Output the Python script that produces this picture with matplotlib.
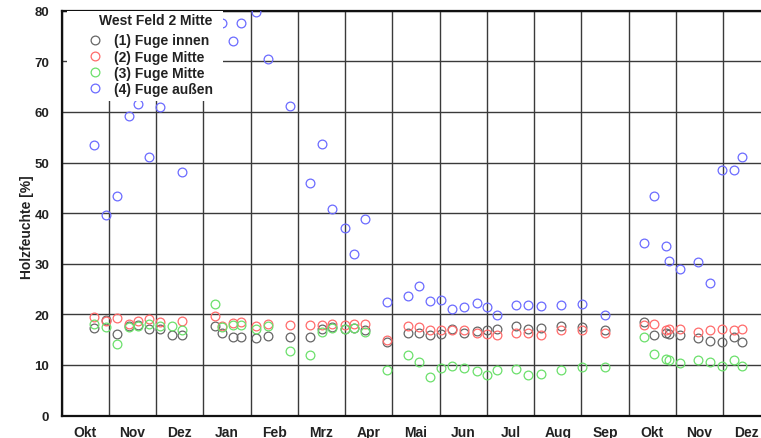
import numpy as np
import matplotlib
matplotlib.use("Agg")
import matplotlib.pyplot as plt
from matplotlib.patches import Rectangle

plt.rcParams['font.family'] = ['Liberation Sans', 'DejaVu Sans']

# month axis: position in months from 1 Oct (0 = start of Okt)
months = ['Okt', 'Nov', 'Dez', 'Jan', 'Feb', 'Mrz', 'Apr', 'Mai', 'Jun',
          'Jul', 'Aug', 'Sep', 'Okt', 'Nov', 'Dez']

# measurement times (fractional month index)
x_mess = [0.69, 0.93, 1.16, 1.42, 1.62, 1.85, 2.08, 2.34, 2.54, 3.25, 3.40, 3.63,
          3.80, 4.11, 4.36, 4.84, 5.26, 5.50, 5.73, 5.99, 6.19, 6.42, 6.88, 7.34,
          7.57, 7.80, 8.03, 8.27, 8.52, 8.80, 9.00, 9.22, 9.61, 9.88, 10.14, 10.57,
          11.02, 11.50, 12.32, 12.54, 12.79, 12.86, 13.09, 13.46, 13.72, 13.97, 14.23, 14.40]

fuge_innen = [17.2, 18.9, 16.1, 17.6, 17.8, 17.1, 17.1, 15.9, 15.9, 17.7, 16.3, 15.6,
              15.6, 15.4, 15.8, 15.6, 15.6, 17.0, 17.4, 17.0, 17.3, 16.8, 14.6, 16.3,
              16.4, 15.9, 16.1, 17.1, 16.4, 16.7, 16.8, 17.1, 17.7, 17.1, 17.2, 17.7,
              17.4, 16.8, 18.4, 15.9, 16.4, 16.1, 16.0, 15.3, 14.7, 14.5, 15.5, 14.6]

fuge_mitte2 = [19.4, 18.7, 19.2, 18.1, 18.6, 19.1, 18.5, np.nan, 18.7, 19.6, 17.7, 18.3,
               18.4, 17.6, 18.1, 17.9, 17.9, 17.9, 18.1, 17.8, 18.0, 18.1, 15.0, 17.6,
               17.4, 16.9, 16.9, 16.8, 16.9, 16.3, 16.1, 15.9, 16.4, 16.4, 16.0, 16.9,
               16.9, 16.3, 17.9, 18.1, 16.8, 17.1, 17.1, 16.6, 16.9, 17.0, 16.8, 17.1]

fuge_mitte3 = [18.1, 17.4, 14.1, 17.4, 17.6, 18.1, 17.6, 17.7, 16.9, 22.0, 17.4, 17.9,
               17.9, 17.0, 17.6, 12.8, 12.0, 16.6, 17.3, 17.0, 17.2, 16.6, 8.9, 12.0,
               10.5, 7.7, 9.3, 9.8, 9.3, 8.7, 8.1, 8.9, 9.2, 8.0, 8.2, 9.0,
               9.5, 9.5, 15.6, 12.1, 11.2, 11.0, 10.3, 11.0, 10.6, 9.8, 10.9, 9.8]

fuge_aussen = [53.4, 39.7, 43.3, 59.1, 61.5, 51.0, 61.0, np.nan, 48.2, np.nan, 77.6, 74.1,
               77.6, 79.7, 70.4, 61.2, 45.9, 53.6, 40.9, 37.0, 31.9, 38.9, 22.4, 23.6,
               25.5, 22.7, 22.8, 21.1, 21.4, 22.3, 21.5, 19.8, 21.9, 21.8, 21.6, 21.8,
               22.0, 19.9, 34.1, 43.4, 33.5, 30.5, 28.9, 30.4, 26.1, 48.5, 48.5, 51.1]

series = [
    ("(1) Fuge innen", fuge_innen, "#666666"),
    ("(2) Fuge Mitte", fuge_mitte2, "#ff6b6b"),
    ("(3) Fuge Mitte", fuge_mitte3, "#6be06b"),
    ("(4) Fuge außen", fuge_aussen, "#6b6bff"),
]
legend_title = "West Feld 2 Mitte"

W, H = 761, 439
fig = plt.figure(figsize=(W / 100, H / 100), dpi=100)
ax_l, ax_r, ax_t, ax_b = 61.7, 761.0, 11.7, 416.5
ax = fig.add_axes([ax_l / W, 1 - ax_b / H, (ax_r - ax_l) / W, (ax_b - ax_t) / H])

for label, vals, col in series:
    ax.plot(x_mess, vals, linestyle='none', marker='o', markersize=6.3,
            markerfacecolor='none', markeredgecolor=col, markeredgewidth=0.9,
            label=label, zorder=3)

ax.set_ylim(0, 80)
ax.set_yticks(np.arange(0, 81, 10))
xmax = len(months) - 1 + (ax_r - 723.3) / 47.0
ax.set_xlim(0, xmax)
ax.set_xticks(np.arange(0, len(months)))
ax.set_xticklabels([])
ax.set_xticks(np.arange(len(months)) + 0.5, minor=True)
ax.set_xticklabels(months, minor=True)

ax.grid(True, which='major', color='#3a3a3a', linewidth=1.0, zorder=1)
ax.set_axisbelow(True)
ax.tick_params(axis='both', which='both', length=0)
ax.tick_params(axis='y', pad=9, labelsize=9.5)
ax.tick_params(axis='x', which='minor', pad=6.5, labelsize=10)
for lab in ax.get_yticklabels() + ax.get_xticklabels(minor=True):
    lab.set_fontweight('bold')
    lab.set_color('#222222')

for s in ['left', 'bottom', 'top']:
    ax.spines[s].set_linewidth(1.6)
    ax.spines[s].set_color('#111111')
ax.spines['right'].set_visible(False)

ax.set_ylabel("Holzfeuchte [%]", fontsize=10, fontweight='bold', color='#222222')
ax.yaxis.set_label_coords((33.5 - ax_l) / (ax_r - ax_l), (ax_b - 227) / (ax_b - ax_t))

# white area behind legend
x0 = (67 - ax_l) / (ax_r - ax_l)
x1 = (223.3 - ax_l) / (ax_r - ax_l)
y0 = (ax_b - 101.7) / (ax_b - ax_t)
ax.add_patch(Rectangle((x0, y0), x1 - x0, 1 - y0, transform=ax.transAxes,
                       facecolor='white', edgecolor='none', zorder=4, clip_on=False))

leg = ax.legend(loc='upper left',
                bbox_to_anchor=(86 / W, 1 - 34.5 / H), bbox_transform=fig.transFigure,
                frameon=False, borderpad=0, borderaxespad=0,
                handlelength=1.29, handletextpad=0.72, labelspacing=0.16,
                prop={'weight': 'bold', 'size': 10})
leg.set_zorder(5)
for t in leg.get_texts():
    t.set_color('#222222')

fig.text(212 / W, 1 - 21 / H, legend_title, ha='right', va='center',
         fontsize=10, fontweight='bold', color='#222222', zorder=6)

fig.savefig("out.png", dpi=100)
